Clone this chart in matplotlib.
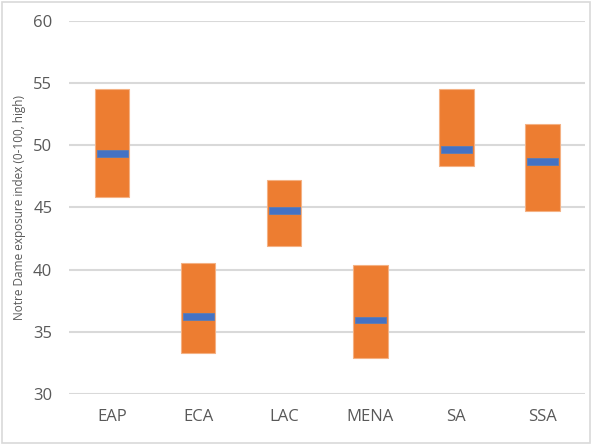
import matplotlib
matplotlib.use("Agg")
import matplotlib.pyplot as plt
from matplotlib.patches import Rectangle

# regions and index range (min / max) with the central value
regions = ["EAP", "ECA", "LAC", "MENA", "SA", "SSA"]
low = [45.8, 33.3, 41.9, 32.9, 48.3, 44.7]
high = [54.5, 40.5, 47.2, 40.4, 54.5, 51.7]
mid = [49.35, 36.2, 44.75, 35.95, 49.65, 48.7]

orange = "#ED7D31"
blue = "#4472C4"
grey_text = "#595959"

plt.rcParams['font.family'] = ['Open Sans', 'DejaVu Sans']

fig = plt.figure(figsize=(5.92, 4.45), dpi=100)
ax = fig.add_axes([0.1166, 0.1146, 0.8724, 0.8389])

x = list(range(len(regions)))
heights = [h - l for h, l in zip(high, low)]
ax.bar(x, heights, bottom=low, width=0.40, color=orange,
       edgecolor="#F4B183", linewidth=0.8, zorder=2)

thick = 0.55
ax.bar(x, [thick] * len(mid), bottom=[m - thick / 2 for m in mid],
       width=0.36, color=blue, edgecolor="#5B7DB8", linewidth=0.6, zorder=3)

ax.set_ylim(30, 60)
ax.set_xlim(-0.5, len(regions) - 0.5)
ax.set_yticks(range(30, 61, 5))
ax.set_xticks(x)
ax.set_xticklabels(regions)
ax.yaxis.grid(True, color="#D9D9D9", linewidth=1.5, zorder=0)
ax.set_axisbelow(True)
for s in ax.spines.values():
    s.set_visible(False)
ax.tick_params(axis="both", length=0, colors=grey_text, labelsize=12)
ax.tick_params(axis="y", pad=12)
ax.tick_params(axis="x", pad=11)
ax.set_ylabel("Notre Dame exposure index (0-100, high)", fontsize=8.5,
              color=grey_text)
ax.yaxis.set_label_coords(-0.083, 0.5)

# light frame around the whole chart
fig.patches.append(Rectangle((0.004, 0.004), 0.992, 0.992, transform=fig.transFigure,
                             fill=False, edgecolor="#D9D9D9", linewidth=1.2))

fig.savefig("out.png", dpi=100)
